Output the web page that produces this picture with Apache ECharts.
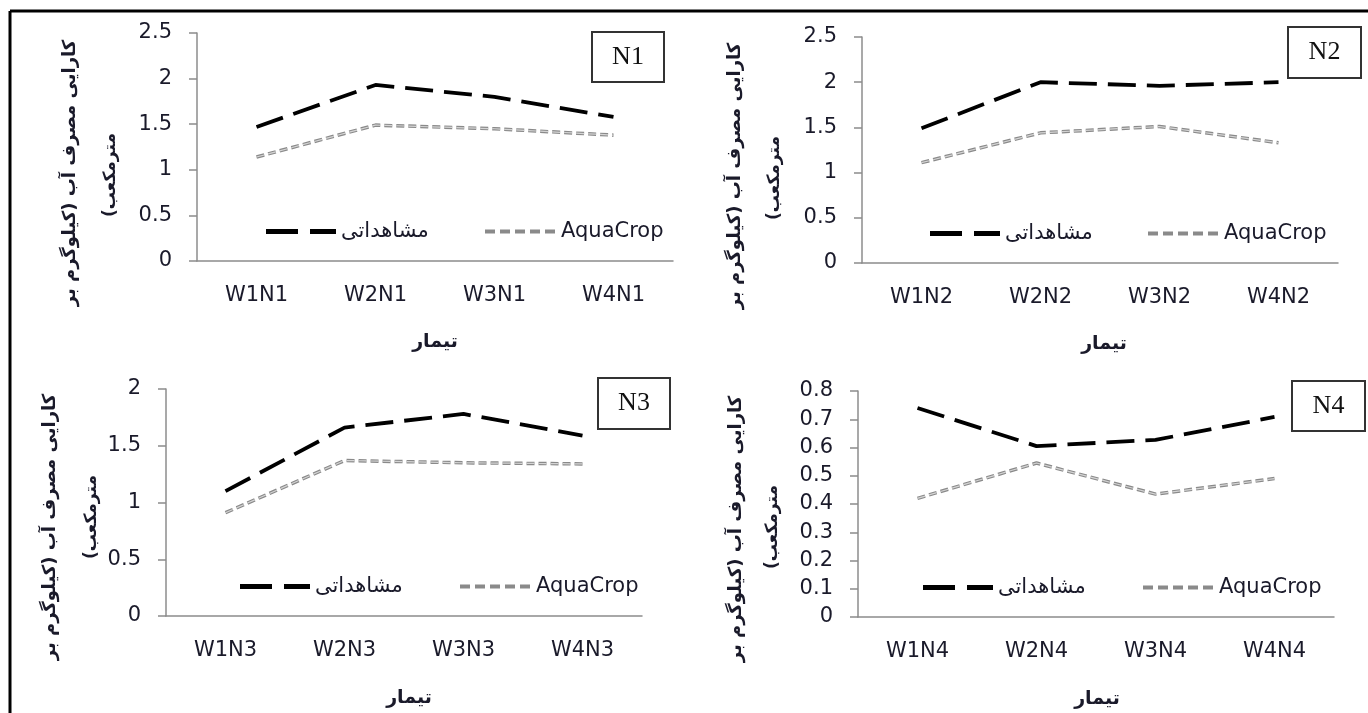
<!DOCTYPE html>
<html><head><meta charset="utf-8">
<script src="https://cdn.jsdelivr.net/npm/echarts@6/dist/echarts.min.js"></script>
<style>html,body{margin:0;padding:0;background:#fff}#c{width:1368px;height:713px}</style>
</head><body><div id="c"></div>
<script>
// ---- data ----
const cats1 = ['W1N1','W2N1','W3N1','W4N1'];
const cats2 = ['W1N2','W2N2','W3N2','W4N2'];
const cats3 = ['W1N3','W2N3','W3N3','W4N3'];
const cats4 = ['W1N4','W2N4','W3N4','W4N4'];
const obs1 = [1.47, 1.93, 1.80, 1.58];
const aqua1 = [1.14, 1.49, 1.45, 1.38];
const obs2 = [1.49, 2.00, 1.96, 2.00];
const aqua2 = [1.11, 1.44, 1.51, 1.33];
const obs3 = [1.10, 1.66, 1.78, 1.59];
const aqua3 = [0.91, 1.37, 1.35, 1.34];
const obs4 = [0.74, 0.605, 0.627, 0.708];
const aqua4 = [0.42, 0.545, 0.435, 0.49];
const panelLabels = ['N1','N2','N3','N4'];
const yMax = [2.5, 2.5, 2, 0.8];
const yStep = [0.5, 0.5, 0.5, 0.1];
const nameObs = 'مشاهداتی';
const nameAqua = 'AquaCrop';
const yTitle1 = 'کارایی مصرف آب (کیلوگرم بر';
const yTitle2 = '\u200Fمترمکعب)\u200F';
const xTitle = 'تیمار';

// ---- layout ----
const grids = [
  {left:197, top:33, width:476, height:228},
  {left:862, top:37, width:476, height:226},
  {left:166, top:389, width:476, height:227},
  {left:858, top:391, width:476, height:226}
];
const legOff = [[64,283],[63,281],[69,289],[60,280]];
const boxes = [
  {x:592, y:32, w:72, h:50},
  {x:1288, y:27, w:73, h:51},
  {x:598, y:378, w:72, h:51},
  {x:1292, y:381, w:73, h:50}
];
const yT = [
  {x1:70, y1:173, x2:111, y2:175},
  {x1:735, y1:176, x2:775, y2:178},
  {x1:50, y1:527, x2:92, y2:517},
  {x1:736, y1:529, x2:773, y2:527}
];
const xT = [{x:435,y:342},{x:1104,y:344},{x:409,y:698},{x:1097,y:699}];

const cats = [cats1,cats2,cats3,cats4];
const obs = [obs1,obs2,obs3,obs4];
const aqua = [aqua1,aqua2,aqua3,aqua4];
const FONT = 'DejaVu Sans';
const textCol = '#1a1a2a';
const axisCol = '#8c8c8c';
const iconObs = 'path://M0,0h32v5h-32z M44,0h26v5h-26z';
const iconAqua = 'path://M0,0h10v4h-10z M15,0h10v4h-10z M30,0h10v4h-10z M45,0h10v4h-10z M60,0h10v4h-10z';

const option = {
  animation:false,
  backgroundColor:'#fff',
  grid:[], xAxis:[], yAxis:[], series:[], legend:[], graphic:[]
};
for (let i=0;i<4;i++){
  const g = grids[i];
  option.grid.push({left:g.left, top:g.top, width:g.width, height:g.height, containLabel:false});
  option.xAxis.push({type:'category', gridIndex:i, data:cats[i], boundaryGap:true,
    axisLine:{lineStyle:{color:axisCol,width:1.5}}, axisTick:{show:false},
    axisLabel:{color:textCol, fontFamily:FONT, fontSize:21, margin:24}});
  option.yAxis.push({type:'value', gridIndex:i, min:0, max:yMax[i], interval:yStep[i],
    axisLine:{show:true, lineStyle:{color:axisCol,width:1.5}},
    axisTick:{show:true, length:8, lineStyle:{color:axisCol,width:1.5}},
    splitLine:{show:false},
    axisLabel:{color:textCol, fontFamily:FONT, fontSize:21, margin:25}});
  option.series.push({type:'line', name:nameObs, xAxisIndex:i, yAxisIndex:i, data:obs[i],
    symbol:'none', lineStyle:{color:'#000', width:3.8, type:[28,11]}, itemStyle:{color:'#000'}, z:4});
  option.series.push({type:'line', name:nameAqua, xAxisIndex:i, yAxisIndex:i, data:aqua[i],
    symbol:'none', lineStyle:{color:'#8a8a8a', width:3.5, type:[8,4]}, itemStyle:{color:'#8a8a8a'}, z:2});
  option.series.push({type:'line', name:nameAqua+' ', xAxisIndex:i, yAxisIndex:i, data:aqua[i],
    symbol:'none', lineStyle:{color:'#d4d4d4', width:1.2, type:[8,4]}, itemStyle:{color:'#d4d4d4'}, z:3, silent:true});
  const ly = g.top + g.height - 45;
  option.legend.push({data:[{name:nameObs, icon:iconObs}], left:g.left+legOff[i][0], top:ly, itemWidth:70, itemHeight:5,
    itemStyle:{borderWidth:0}, textStyle:{color:textCol, fontFamily:FONT, fontSize:21}, selectedMode:false});
  option.legend.push({data:[{name:nameAqua, icon:iconAqua}], left:g.left+legOff[i][1], top:ly, itemWidth:72, itemHeight:4,
    itemStyle:{borderWidth:0}, textStyle:{color:textCol, fontFamily:FONT, fontSize:21}, selectedMode:false});
  const b = boxes[i];
  option.graphic.push({type:'rect', shape:{x:b.x,y:b.y,width:b.w,height:b.h},
    style:{fill:'#fff', stroke:'#333', lineWidth:2}, z:10});
  option.graphic.push({type:'text', x:b.x+b.w/2, y:b.y+b.h/2, z:11,
    style:{text:panelLabels[i], fill:'#111', font:'26px "Liberation Serif"', align:'center', verticalAlign:'middle'}});
  const t = yT[i];
  option.graphic.push({type:'text', x:t.x1, y:t.y1, rotation:Math.PI/2,
    style:{text:yTitle1, fill:textCol, font:'bold 18px "DejaVu Sans"', align:'center', verticalAlign:'middle'}});
  option.graphic.push({type:'text', x:t.x2, y:t.y2, rotation:Math.PI/2,
    style:{text:yTitle2, fill:textCol, font:'bold 17px "DejaVu Sans"', align:'center', verticalAlign:'middle'}});
  option.graphic.push({type:'text', x:xT[i].x, y:xT[i].y,
    style:{text:xTitle, fill:textCol, font:'bold 19px "DejaVu Sans"', align:'center', verticalAlign:'middle'}});
}
// outer frame
option.graphic.push({type:'line', shape:{x1:10,y1:11,x2:1368,y2:11}, style:{stroke:'#000', lineWidth:3}});
option.graphic.push({type:'line', shape:{x1:10,y1:11,x2:10,y2:713}, style:{stroke:'#000', lineWidth:3}});

const chart = echarts.init(document.getElementById('c'), null, {renderer:'canvas'});
chart.setOption(option);
</script></body></html>
